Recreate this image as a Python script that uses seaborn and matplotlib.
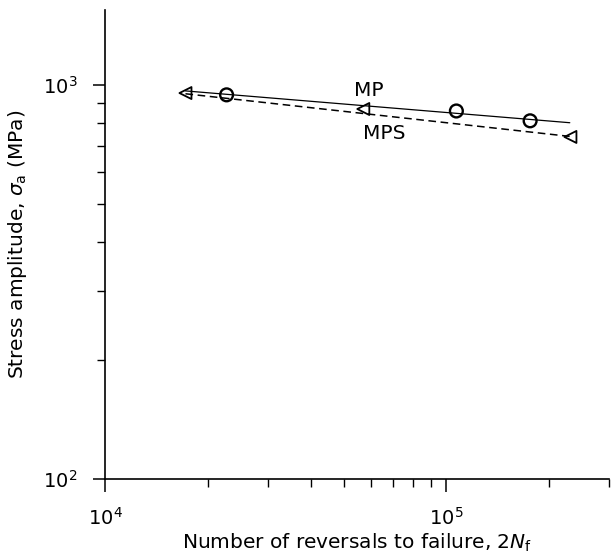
import seaborn as sns
import matplotlib.pyplot as plt
import matplotlib.ticker as mticker
import pandas as pd

# puntos medidos (MP = circulos, MPS = triangulos)
mp_ciclos = [2.27e4, 1.07e5, 1.76e5]
mp_tension = [944, 859, 811]
mps_ciclos = [1.72e4, 5.71e4, 2.31e5]
mps_tension = [954, 869, 738]

# rectas de ajuste (extremos)
mp_fit_ciclos = [1.72e4, 2.30e5]
mp_fit_tension = [966, 802]
mps_fit_ciclos = [1.72e4, 2.31e5]
mps_fit_tension = [950, 740]

sns.set_style('ticks')
plt.rcParams['font.family'] = ['DejaVu Sans']
plt.rcParams['mathtext.fontset'] = 'dejavusans'
for clave in ['text.color', 'axes.labelcolor', 'xtick.color', 'ytick.color']:
    plt.rcParams[clave] = 'black'

fig = plt.figure(figsize=(6.11, 5.58), dpi=100)
ax = fig.add_axes([0.172, 0.142, 0.825, 0.840])

df_mp = pd.DataFrame({'n': mp_ciclos, 's': mp_tension})
df_mps = pd.DataFrame({'n': mps_ciclos, 's': mps_tension})

sns.lineplot(x=mp_fit_ciclos, y=mp_fit_tension, color='black', lw=0.9, ax=ax)
sns.lineplot(x=mps_fit_ciclos, y=mps_fit_tension, color='black', lw=1.1,
             linestyle=(0, (5, 3)), ax=ax)
sns.scatterplot(data=df_mp, x='n', y='s', marker='o', s=85, facecolor='none',
                edgecolor='black', linewidth=1.7, ax=ax, zorder=3)
sns.scatterplot(data=df_mps, x='n', y='s', marker='<', s=75, facecolor='none',
                edgecolor='black', linewidth=1.3, ax=ax, zorder=3)

ax.set_xscale('log')
ax.set_yscale('log')
ax.set_xlim(1e4, 3e5)
ax.set_ylim(1e2, 1.55e3)
ax.xaxis.set_minor_formatter(mticker.NullFormatter())
ax.yaxis.set_minor_formatter(mticker.NullFormatter())

ax.text(5.94e4, 971, 'MP', fontsize=14.5, ha='center', va='center')
ax.text(6.58e4, 755, 'MPS', fontsize=14.5, ha='center', va='center')

ax.set_xlabel('Number of reversals to failure, $2N_{\\rm f}$', fontsize=14.5, labelpad=2)
ax.set_ylabel('Stress amplitude, $\\sigma_{\\rm a}$ (MPa)', fontsize=14.5, labelpad=10)

sns.despine(ax=ax)
for lado in ['left', 'bottom']:
    ax.spines[lado].set_linewidth(1.2)
    ax.spines[lado].set_color('black')
ax.tick_params(which='major', length=9, width=1.1, labelsize=14, pad=11)
ax.tick_params(which='minor', length=6, width=1.0)

fig.savefig('out.png', dpi=100)
